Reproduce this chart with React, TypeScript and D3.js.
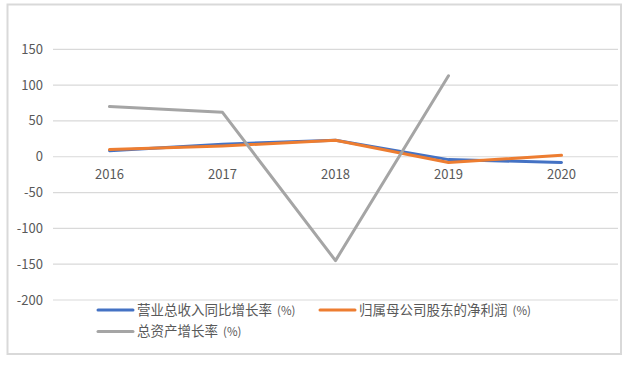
import React from 'react';
import { scaleLinear, scalePoint, line as d3Line } from 'd3';

// chart data
const years = ['2016', '2017', '2018', '2019', '2020'];
const revenueGrowth = [8.4, 17.5, 23, -4, -8];
const netProfitGrowth = [10, 15, 23, -8, 2];
const assetGrowth: Array<number | null> = [70, 62, -145, 113, null];
const yTicks = [150, 100, 50, 0, -50, -100, -150, -200];

const seriesNames = ['营业总收入同比增长率', '归属母公司股东的净利润', '总资产增长率'];
const seriesColors = ['#4472C4', '#ED7D31', '#A5A5A5'];

const W = 638;
const H = 366;
const plot = { left: 53, right: 618, top: 49.3, bottom: 300 };
const textColor = '#595959';
const font = '"Noto Sans CJK SC", "Liberation Sans", sans-serif';

const App: React.FC = () => {
  const x = scalePoint<string>()
    .domain(years)
    .range([plot.left, plot.right])
    .padding(0.5);
  const y = scaleLinear().domain([-200, 150]).range([plot.bottom, plot.top]);

  const lineGen = d3Line<number | null>()
    .defined((d) => d !== null)
    .x((_, i) => x(years[i]) as number)
    .y((d) => y(d as number));

  const series = [revenueGrowth, netProfitGrowth, assetGrowth];

  const legend = [
    { name: seriesNames[0], color: seriesColors[0], lx: 98, ly: 310 },
    { name: seriesNames[1], color: seriesColors[1], lx: 320, ly: 310 },
    { name: seriesNames[2], color: seriesColors[2], lx: 98, ly: 331.5 },
  ];

  return (
    <svg
      width={W}
      height={H}
      style={{ position: 'absolute', left: 0, top: 0, background: '#fff' }}
      fontFamily={font}
    >
      <rect x={7.5} y={4.5} width={613.5} height={349.5} fill="#fff" stroke="#D9D9D9" strokeWidth={2} />

      {yTicks.map((t) => (
        <g key={t}>
          <line x1={plot.left} x2={plot.right} y1={y(t)} y2={y(t)} stroke="#D9D9D9" strokeWidth={1.2} />
          <text x={43} y={y(t)} dy="0.35em" textAnchor="end" fontSize={13} fill={textColor}>
            {t}
          </text>
        </g>
      ))}

      {years.map((yr) => (
        <text key={yr} x={x(yr)} y={174} dy="0.35em" textAnchor="middle" fontSize={13} fill={textColor}>
          {yr}
        </text>
      ))}

      {series.map((s, i) => (
        <path
          key={i}
          d={lineGen(s as Array<number | null>) || ''}
          fill="none"
          stroke={seriesColors[i]}
          strokeWidth={3}
          strokeLinejoin="round"
          strokeLinecap="round"
        />
      ))}

      {legend.map((l) => (
        <g key={l.name}>
          <line x1={l.lx} x2={l.lx + 35} y1={l.ly} y2={l.ly} stroke={l.color} strokeWidth={3} strokeLinecap="round" />
          <text x={l.lx + 39} y={l.ly} dy="0.35em" fontSize={13.5} fill={textColor}>
            {l.name}
            <tspan fontSize={11.5} dx={5}>(%)</tspan>
          </text>
        </g>
      ))}
    </svg>
  );
};

export default App;
